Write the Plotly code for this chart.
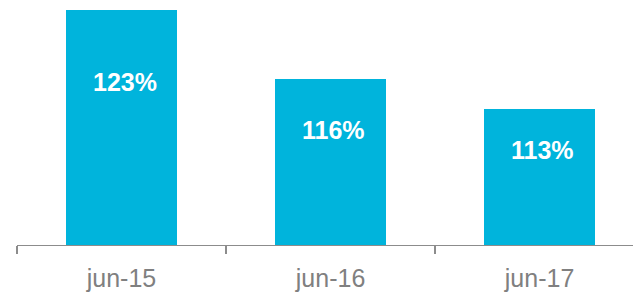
import plotly.graph_objects as go

categories = ["jun-15", "jun-16", "jun-17"]
values = [123, 116, 113]
labels = ["123%", "116%", "113%"]

y_min = 99.25
y_max = 124.0
label_frac = 0.695

fig = go.Figure()
fig.add_trace(go.Bar(
    x=categories, y=values, width=0.53,
    marker=dict(color="#00B4DC", line=dict(width=0)),
    hoverinfo="skip",
))

for c, v, t in zip(categories, values, labels):
    fig.add_annotation(
        x=c, y=y_min + label_frac * (v - y_min), text=t, showarrow=False,
        xshift=3,
        font=dict(family="Liberation Sans, Arial", size=25, color="white", weight="bold"),
    )

fig.update_layout(
    width=633, height=293,
    margin=dict(l=17, r=0, t=0, b=48),
    paper_bgcolor="white", plot_bgcolor="white",
    showlegend=False,
    bargap=0,
    xaxis=dict(
        type="category", range=[-0.5, 2.447],
        showline=True, linecolor="#8C8C8C", linewidth=1.3,
        ticks="outside", tickson="boundaries", ticklen=8, tickcolor="#8C8C8C", tickwidth=1.3,
        ticklabelstandoff=11,
        tickfont=dict(family="Liberation Sans, Arial", size=25, color="#808080"),
        showgrid=False, zeroline=False, automargin=False,
    ),
    yaxis=dict(range=[y_min, y_max], visible=False, showgrid=False, zeroline=False),
)

fig.write_html(
    "out.html",
    config={"displayModeBar": False, "staticPlot": True},
    post_script="document.body.style.margin='0';document.body.style.overflow='hidden';",
)
